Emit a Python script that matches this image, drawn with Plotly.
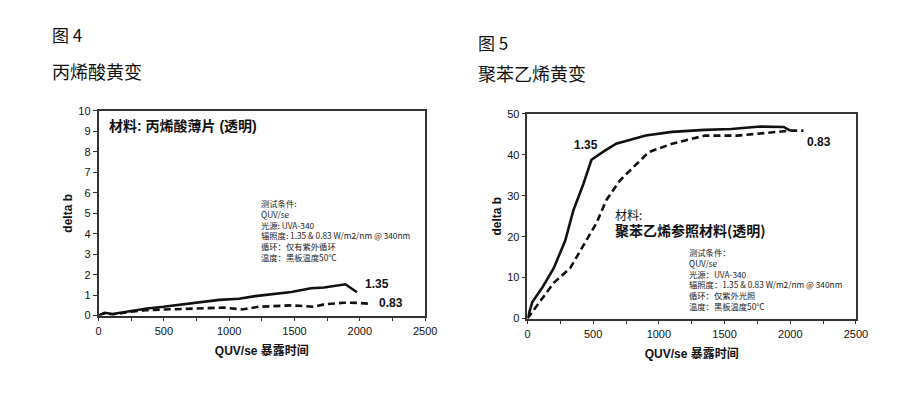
import plotly.graph_objects as go

# ---- Figure 4: acrylic yellowing ----
acr_x_135 = [0, 45, 108, 246, 371, 497, 698, 924, 1074, 1200, 1476, 1626, 1727, 1890, 1978]
acr_y_135 = [0, 0.14, 0.08, 0.24, 0.35, 0.43, 0.58, 0.77, 0.82, 0.95, 1.15, 1.34, 1.37, 1.53, 1.14]
acr_x_083 = [0, 45, 108, 246, 371, 572, 823, 961, 1099, 1225, 1476, 1652, 1727, 1877, 1978, 2078]
acr_y_083 = [0, 0.11, 0.05, 0.19, 0.27, 0.30, 0.35, 0.39, 0.30, 0.43, 0.50, 0.43, 0.55, 0.63, 0.62, 0.58]

# ---- Figure 5: polystyrene yellowing ----
ps_x_135 = [0, 37, 112, 200, 287, 350, 425, 487, 575, 675, 900, 1100, 1350, 1550, 1775, 1950, 2000]
ps_y_135 = [0, 4.0, 7.5, 12.3, 19.0, 26.5, 32.8, 38.8, 40.7, 42.7, 44.7, 45.6, 46.1, 46.3, 46.9, 46.8, 45.9]
ps_x_083 = [0, 100, 200, 325, 450, 525, 600, 700, 800, 925, 1100, 1350, 1600, 1850, 2000, 2100]
ps_y_083 = [0, 4.3, 8.7, 12.3, 19.4, 23.3, 28.9, 33.6, 36.8, 40.7, 42.7, 44.7, 44.7, 45.5, 45.9, 45.9]

x_ticks = [0, 500, 1000, 1500, 2000, 2500]
acr_y_ticks = list(range(0, 11))
ps_y_ticks = [0, 10, 20, 30, 40, 50]

SANS = "Liberation Sans, Arial, Noto Sans CJK SC, sans-serif"
CJK = "Noto Sans CJK SC, sans-serif"
LINE = "#111111"

W, H, OFF = 920, 397, 8  # page body margin offset


def px(x):
    return (x - OFF) / W


def py(y):
    return 1 - (y - OFF) / H


fig = go.Figure()

fig.add_trace(go.Scatter(x=acr_x_135, y=acr_y_135, mode="lines",
                         line=dict(color=LINE, width=2.6), xaxis="x", yaxis="y"))
fig.add_trace(go.Scatter(x=acr_x_083, y=acr_y_083, mode="lines",
                         line=dict(color=LINE, width=2.6, dash="7px,4px"), xaxis="x", yaxis="y"))
fig.add_trace(go.Scatter(x=ps_x_135, y=ps_y_135, mode="lines",
                         line=dict(color=LINE, width=2.6), xaxis="x2", yaxis="y2"))
fig.add_trace(go.Scatter(x=ps_x_083, y=ps_y_083, mode="lines",
                         line=dict(color=LINE, width=2.6, dash="7px,4px"), xaxis="x2", yaxis="y2"))

axis_common = dict(showgrid=False, zeroline=False, showline=True, linecolor="#333333",
                   linewidth=1.6, mirror=True, ticks="outside", ticklen=4, tickwidth=1.2,
                   tickcolor="#333333", tickfont=dict(family=SANS, size=11, color="#111"))

x_common = dict(axis_common, range=[0, 2500], tickvals=x_ticks,
                minor=dict(dtick=250, ticks="outside", ticklen=4, tickwidth=1.2, tickcolor="#333333"),
                title=dict(text="<b>QUV/se 暴露时间</b>", font=dict(family=SANS, size=12, color="#111"),
                           standoff=11))

ytitle = dict(text="<b>delta b</b>", font=dict(family=SANS, size=12, color="#111"), standoff=3)

fig.update_layout(
    width=W, height=H,
    margin=dict(l=0, r=0, t=0, b=0),
    paper_bgcolor="white", plot_bgcolor="white",
    showlegend=False,
    xaxis=dict(x_common, domain=[px(97), px(429)], anchor="y"),
    yaxis=dict(axis_common, domain=[py(319), py(108)], anchor="x", range=[0, 10], tickvals=acr_y_ticks,
               title=ytitle),
    xaxis2=dict(x_common, domain=[px(533), px(867)], anchor="y2"),
    yaxis2=dict(axis_common, domain=[py(322), py(111)], anchor="x2", range=[0, 50], tickvals=ps_y_ticks,
                title=ytitle),
)


def note(text, x, y, size, family=CJK, color="#111", align="left"):
    fig.add_annotation(text=text, x=px(x), y=py(y), xref="paper", yref="paper",
                       xanchor="left", yanchor="middle", align=align, showarrow=False,
                       font=dict(family=family, size=size, color=color))


# Headings
note("图 4", 48, 29, 17)
note("丙烯酸黄变", 48, 67, 18)
note("图 5", 481, 37, 17)
note("聚苯乙烯黄变", 481, 69, 18)

# Chart 1 texts
note("<b>材料: 丙烯酸薄片 (透明)</b>", 106, 124, 14, family=SANS)
cond1 = "测试条件:<br>QUV/se<br>光源: UVA-340<br>辐照度: 1.35 & 0.83 W/m2/nm @ 340nm<br>循环：仅有紫外循环<br>温度：黑板温度50°C"
note(cond1, 260, 231, 8.3, color="#222")
note("<b>1.35</b>", 366, 286, 12, family=SANS)
note("<b>0.83</b>", 380, 306, 12, family=SANS)

# Chart 2 texts
note("材料:<br><span style='font-size:14px'><b>聚苯乙烯参照材料(透明)</b></span>", 620, 224, 12)
cond2 = "测试条件：<br>QUV/se<br>光源：UVA-340<br>辐照度：1.35 & 0.83 W/m2/nm @ 340nm<br>循环：仅紫外光照<br>温度：黑板温度50°C"
note(cond2, 695, 281, 8.3, color="#222")
note("<b>1.35</b>", 578, 143, 12, family=SANS)
note("<b>0.83</b>", 815, 140, 12, family=SANS)

fig.write_html("out.html", config={"displayModeBar": False})
